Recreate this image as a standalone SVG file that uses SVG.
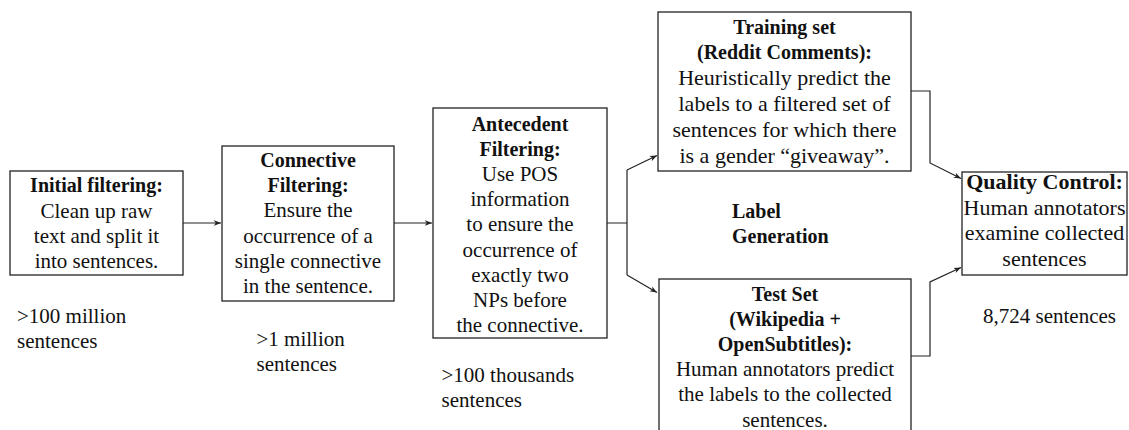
<svg xmlns="http://www.w3.org/2000/svg" width="1129" height="430" viewBox="0 0 1129 430" font-family="Liberation Serif, Times New Roman, serif">
<style>
.box{fill:#fff;stroke:#222;stroke-width:1.3}
text{fill:#111}
.t{font-size:21px;text-anchor:middle}
.b{font-size:20px;font-weight:bold;text-anchor:middle}
.q{font-size:22px}
.l{font-size:21px}
.lb{font-size:20px;font-weight:bold}
.c{fill:none;stroke:#222;stroke-width:1.2}
</style>
<defs>
<marker id="ah" viewBox="0 0 10 10" refX="9" refY="5" markerWidth="8" markerHeight="8" markerUnits="userSpaceOnUse" orient="auto">
<path d="M0,1.5 L9,5 L0,8.5 L2.5,5 Z" fill="#222"/>
</marker>
</defs>
<g id="connectors">
<path class="c" d="M183,223 L221,223" marker-end="url(#ah)"/>
<path class="c" d="M394,223 L432,223" marker-end="url(#ah)"/>
<path class="c" d="M607,223 L627,223 M627,275 L627,170"/>
<path class="c" d="M627,170 L657,155.5" marker-end="url(#ah)"/>
<path class="c" d="M627,275 L657,292.5" marker-end="url(#ah)"/>
<path class="c" d="M911,91 L930,91 L930,163 L961,178.5" marker-end="url(#ah)"/>
<path class="c" d="M911,356 L930,356 L930,282 L961,267.5" marker-end="url(#ah)"/>
</g>
<g id="initial">
<rect class="box" x="10" y="171" width="173" height="104"/>
<text class="b" x="96.5" y="192">Initial filtering:</text>
<text class="t" x="96.5" y="217.5">Clean up raw</text>
<text class="t" x="96.5" y="243">text and split it</text>
<text class="t" x="96.5" y="268">into sentences.</text>
</g>
<g id="connective">
<rect class="box" x="222" y="146" width="172" height="155"/>
<text class="b" x="308" y="167">Connective</text>
<text class="b" x="308" y="192.2">Filtering:</text>
<text class="t" x="308" y="217.4">Ensure the</text>
<text class="t" x="308" y="242.6">occurrence of a</text>
<text class="t" x="308" y="267.8">single connective</text>
<text class="t" x="308" y="293">in the sentence.</text>
</g>
<g id="antecedent">
<rect class="box" x="433" y="108" width="174" height="230"/>
<text class="b" x="520" y="130.5">Antecedent</text>
<text class="b" x="520" y="155.7">Filtering:</text>
<text class="t" x="520" y="180.9">Use POS</text>
<text class="t" x="520" y="206.1">information</text>
<text class="t" x="520" y="231.3">to ensure the</text>
<text class="t" x="520" y="256.5">occurrence of</text>
<text class="t" x="520" y="281.7">exactly two</text>
<text class="t" x="520" y="306.9">NPs before</text>
<text class="t" x="520" y="332.1">the connective.</text>
</g>
<g id="training">
<rect class="box" x="658" y="12" width="253" height="159"/>
<text class="b" x="784.5" y="33.5">Training set</text>
<text class="b" x="784.5" y="59.4">(Reddit Comments):</text>
<text class="t q" x="784.5" y="85.3">Heuristically predict the</text>
<text class="t q" x="784.5" y="111.2">labels to a filtered set of</text>
<text class="t q" x="784.5" y="137.1">sentences for which there</text>
<text class="t q" x="784.5" y="163">is a gender “giveaway”.</text>
</g>
<g id="test">
<rect class="box" x="659" y="279" width="252" height="154"/>
<text class="b" x="785" y="300.5">Test Set</text>
<text class="b" x="785" y="325.7">(Wikipedia +</text>
<text class="b" x="785" y="350.9">OpenSubtitles):</text>
<text class="t" x="785" y="376.1">Human annotators predict</text>
<text class="t" x="785" y="401.3">the labels to the collected</text>
<text class="t" x="785" y="426.5">sentences.</text>
</g>
<g id="quality">
<rect class="box" x="962" y="172" width="165" height="103"/>
<text class="b q" x="1044.5" y="189">Quality Control:</text>
<text class="t q" x="1044.5" y="214.5">Human annotators</text>
<text class="t q" x="1044.5" y="240">examine collected</text>
<text class="t q" x="1044.5" y="266">sentences</text>
</g>
<g id="labels">
<text class="l" x="17" y="323">&gt;100 million</text>
<text class="l" x="17" y="348">sentences</text>
<text class="l" x="256.5" y="346">&gt;1 million</text>
<text class="l" x="256.5" y="371">sentences</text>
<text class="l" x="441.5" y="382">&gt;100 thousands</text>
<text class="l" x="441.5" y="407">sentences</text>
<text class="l" x="983" y="323">8,724 sentences</text>
<text class="lb" x="732" y="218">Label</text>
<text class="lb" x="732" y="243">Generation</text>
</g>
</svg>
